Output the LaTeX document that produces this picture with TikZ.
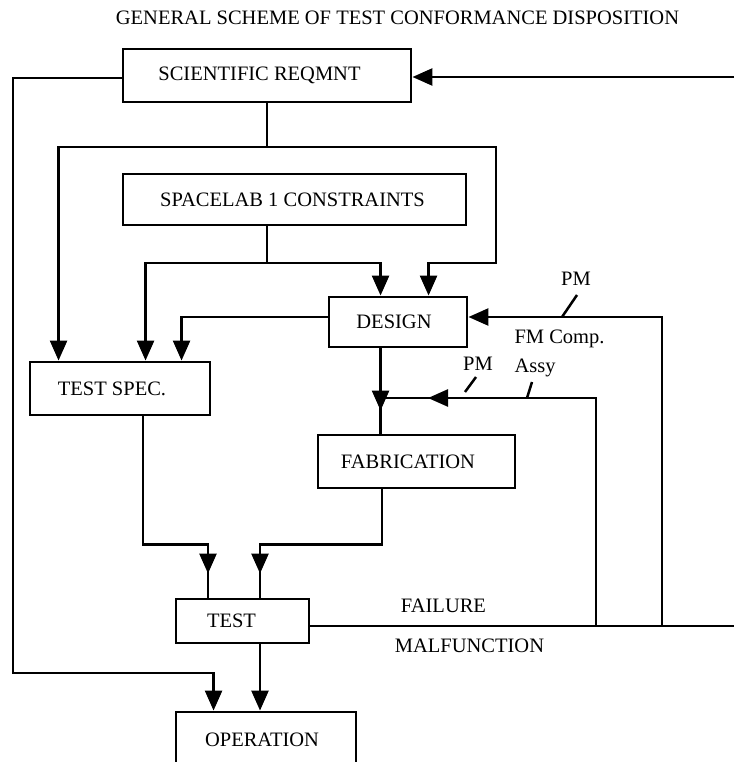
\documentclass[tikz,border=0pt]{standalone}
\usepackage{fontspec}
\setmainfont{Liberation Serif}
\usetikzlibrary{arrows.meta,decorations.markings}

\begin{document}
\begin{tikzpicture}[x=1pt,y=-1pt,
  every node/.style={font=\fontsize{20.5pt}{24pt}\selectfont},
  box/.style={draw, line width=2.9pt, inner sep=0pt},
  wire/.style={line width=2.5pt},
  arr/.style={wire, -{Triangle[length=20pt,width=17pt]}},
  midarrow/.style={wire, postaction={decorate},
    decoration={markings, mark=at position #1 with {\arrow{Triangle[length=20pt,width=17pt]}}}},
  lshift/.style={execute at end node={\kern#1}},
  tick/.style={line width=2.5pt},
  lbl/.style={anchor=base}
]
\useasboundingbox (0,0) rectangle (734,762);
\clip (0,0) rectangle (734,762);

% title
\node[lbl] (title) at (397.5,25) {GENERAL SCHEME OF TEST CONFORMANCE DISPOSITION};

% process boxes
\node[box, minimum width=288pt, minimum height=53pt, lshift=15pt] (sci) at (267,75.5) {SCIENTIFIC REQMNT};
\node[box, minimum width=343pt, minimum height=51pt, lshift=4pt] (spl) at (294.5,199.5) {SPACELAB 1 CONSTRAINTS};
\node[box, minimum width=138pt, minimum height=50pt, lshift=8pt] (design) at (398,322) {DESIGN};
\node[box, minimum width=180pt, minimum height=53pt, lshift=16pt] (tspec) at (120,388.5) {TEST SPEC.};
\node[box, minimum width=197pt, minimum height=53pt, lshift=17pt] (fab) at (416.5,461.5) {FABRICATION};
\node[box, minimum width=133pt, minimum height=44pt, lshift=22pt] (test) at (242.5,621) {TEST};
\node[box, minimum width=180pt, minimum height=56pt, lshift=8pt] (oper) at (266,740) {OPERATION};

% junctions and off-page ends
\coordinate (edgeTop) at (734,77);
\coordinate (edgeBot) at (734,626);
\coordinate (leftBend) at (13,673);
\coordinate (sciFork) at (267,147);
\coordinate (sciRight) at (496,263);
\coordinate (splFork) at (267,263);
\coordinate (jFab) at (596,626);
\coordinate (jDes) at (662,626);
\coordinate (fabIn) at (382,398);

% requirement flows
\draw[arr] (edgeTop) -- (sci.east |- edgeTop);
\draw[arr] ([yshift=-2.5pt]sci.west) -| (leftBend) -| ([xshift=39pt]oper.north west);
\draw[arr] (sci.south) -- (sciFork) -| ([xshift=30pt]tspec.north west);
\draw[arr] (sciFork) -| (sciRight) -| ([xshift=101pt]design.north west);
\draw[arr] (splFork |- spl.south) -- (splFork) -| ([xshift=117pt]tspec.north west);
\draw[arr] (splFork) -| ([xshift=53pt]design.north west);
\draw[arr] ([yshift=5pt]design.west) -| ([xshift=153pt]tspec.north west);

% design to fabrication to test
\draw[midarrow=-23pt] ([xshift=53pt]design.south west) -- ([xshift=53pt]design.south west |- fab.north);
\draw[midarrow=-24pt] ([xshift=-34.5pt]fab.south) -- ++(0,55) -| ([xshift=17.5pt]test.north);
\draw[midarrow=-24pt] ([xshift=23pt]tspec.south) -- ++(0,128) -| ([xshift=-34.5pt]test.north);
\draw[arr] ([xshift=17.5pt]test.south) -- ([xshift=17.5pt]test.south |- oper.north);

% failure / malfunction feedback
\draw[wire] ([yshift=-5pt]test.east) -- (edgeBot);
\draw[arr] (jDes) |- ([yshift=5pt]design.east);
\draw[midarrow=-46pt] (jFab) |- (fabIn);

% feedback labels
\draw[tick] (562,317) -- (577,295);
\node[lbl] (pmTop) at (576,285) {PM};
\node[anchor=base west] (fmComp) at (511,343.5) {FM Comp.};
\node[anchor=base west] (assy) at (511,372) {Assy};
\draw[tick] (527,398) -- (532,382);
\node[lbl] (pmLow) at (478,370) {PM};
\draw[tick] (465,392) -- (476,377);
\node[lbl] (failure) at (443.5,612) {FAILURE};
\node[lbl] (malf) at (469.5,652) {MALFUNCTION};
\end{tikzpicture}
\end{document}
